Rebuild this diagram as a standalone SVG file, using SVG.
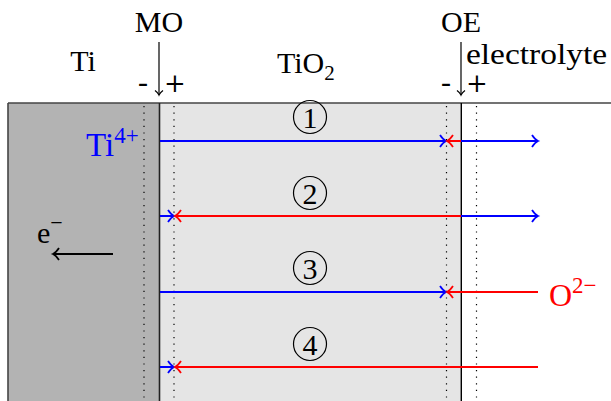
<svg xmlns="http://www.w3.org/2000/svg" width="611" height="401" viewBox="0 0 611 401">
<style>
text{font-family:"Liberation Serif","DejaVu Serif",serif;fill:#000}
.lbl{font-size:30px}
.mn{font-size:30px;text-anchor:middle}
.pl{font-family:"DejaVu Serif",serif;font-size:26px;text-anchor:middle}
.num{font-size:30px;text-anchor:middle}
.dot{stroke:#000;stroke-width:1.2;stroke-dasharray:1.2 5.4}
.b{stroke:#0000ff;stroke-width:2;fill:none}
.r{stroke:#ff0000;stroke-width:2;fill:none}
.k{stroke:#000;stroke-width:2;fill:none}
.circ{fill:none;stroke:#000;stroke-width:1.2}
</style>
<defs>
<marker id="ab" markerUnits="userSpaceOnUse" markerWidth="12" markerHeight="14" refX="10" refY="7" orient="auto" overflow="visible">
<path d="M4,1 C6.2,4.3 8.4,6.3 10,7 C8.4,7.7 6.2,9.7 4,13" fill="none" stroke="#0000ff" stroke-width="1.8"/>
</marker>
<marker id="ar" markerUnits="userSpaceOnUse" markerWidth="12" markerHeight="14" refX="10" refY="7" orient="auto" overflow="visible">
<path d="M4,1 C6.2,4.3 8.4,6.3 10,7 C8.4,7.7 6.2,9.7 4,13" fill="none" stroke="#ff0000" stroke-width="1.8"/>
</marker>
<marker id="ak" markerUnits="userSpaceOnUse" markerWidth="12" markerHeight="14" refX="10" refY="7" orient="auto" overflow="visible">
<path d="M4,1 C6.2,4.3 8.4,6.3 10,7 C8.4,7.7 6.2,9.7 4,13" fill="none" stroke="#000" stroke-width="1.8"/>
</marker>
<marker id="ak1" markerUnits="userSpaceOnUse" markerWidth="12" markerHeight="14" refX="10" refY="7" orient="auto" overflow="visible">
<path d="M5.5,3 C7,5 8.7,6.5 10,7 C8.7,7.5 7,9 5.5,11" fill="none" stroke="#000" stroke-width="1.2"/>
</marker>
</defs>

<g id="regions">
<rect x="8" y="103" width="152" height="300" fill="#b3b3b3"/>
<rect x="160" y="103" width="301" height="300" fill="#e5e5e5"/>
<line x1="8" y1="103" x2="611" y2="103" stroke="#444" stroke-width="1.6"/>
<line x1="8" y1="103" x2="8" y2="401" stroke="#444" stroke-width="1.6"/>
<line x1="159.5" y1="103" x2="159.5" y2="401" stroke="#222" stroke-width="1.6"/>
<line x1="461.3" y1="103" x2="461.3" y2="401" stroke="#000" stroke-width="1.4"/>
<line class="dot" x1="144" y1="106" x2="144" y2="401"/>
<line class="dot" x1="174" y1="106" x2="174" y2="401"/>
<line class="dot" x1="446.5" y1="106" x2="446.5" y2="401"/>
<line class="dot" x1="476.5" y1="106" x2="476.5" y2="401"/>
</g>

<g id="top-labels">
<text class="lbl" x="83" y="71" text-anchor="middle">Ti</text>
<text class="lbl" x="277" y="73">TiO<tspan font-size="21" dy="7">2</tspan></text>
<text class="lbl" x="159" y="32" text-anchor="middle">MO</text>
<text class="lbl" x="461" y="32" text-anchor="middle">OE</text>
<text class="lbl" x="466" y="64" textLength="141" lengthAdjust="spacingAndGlyphs">electrolyte</text>
<text class="mn" x="143" y="92">-</text>
<text class="pl" x="175" y="92">+</text>
<text class="mn" x="446" y="92">-</text>
<text class="pl" x="477" y="92">+</text>
</g>

<g id="interface-arrows">
<line class="k" style="stroke-width:1.2" x1="159" y1="42" x2="159" y2="95" marker-end="url(#ak1)"/>
<line class="k" style="stroke-width:1.2" x1="461" y1="42" x2="461" y2="95" marker-end="url(#ak1)"/>
</g>

<g id="connectors">
<line class="b" x1="160" y1="141" x2="446" y2="141" marker-end="url(#ab)"/>
<line class="r" x1="461" y1="141" x2="447" y2="141" marker-end="url(#ar)"/>
<line class="b" x1="461" y1="141" x2="538" y2="141" marker-end="url(#ab)"/>

<line class="b" x1="160" y1="216" x2="174" y2="216" marker-end="url(#ab)"/>
<line class="r" x1="461" y1="216" x2="175" y2="216" marker-end="url(#ar)"/>
<line class="b" x1="461" y1="216" x2="538" y2="216" marker-end="url(#ab)"/>

<line class="b" x1="160" y1="292" x2="446" y2="292" marker-end="url(#ab)"/>
<line class="r" x1="538" y1="292" x2="447" y2="292" marker-end="url(#ar)"/>

<line class="b" x1="160" y1="367" x2="174" y2="367" marker-end="url(#ab)"/>
<line class="r" x1="538" y1="367" x2="175" y2="367" marker-end="url(#ar)"/>

<line class="k" x1="113" y1="254" x2="53" y2="254" marker-end="url(#ak)"/>
</g>

<g id="step1"><circle class="circ" cx="310" cy="117" r="16.5"/><text class="num" x="310" y="127.5">1</text></g>
<g id="step2"><circle class="circ" cx="310" cy="193" r="16.5"/><text class="num" x="310" y="203.5">2</text></g>
<g id="step3"><circle class="circ" cx="310" cy="268" r="16.5"/><text class="num" x="310" y="278.5">3</text></g>
<g id="step4"><circle class="circ" cx="310" cy="344" r="16.5"/><text class="num" x="310" y="354.5">4</text></g>

<g id="ion-labels">
<text x="86" y="156" style="fill:#0000ff;font-size:33px">Ti<tspan font-size="23" dy="-13">4+</tspan></text>
<text x="549" y="306" style="fill:#ff0000;font-size:32px">O<tspan font-size="23" dy="-13">2−</tspan></text>
<text class="lbl" x="37" y="243">e<tspan font-size="22" dy="-13">−</tspan></text>
</g>
</svg>
